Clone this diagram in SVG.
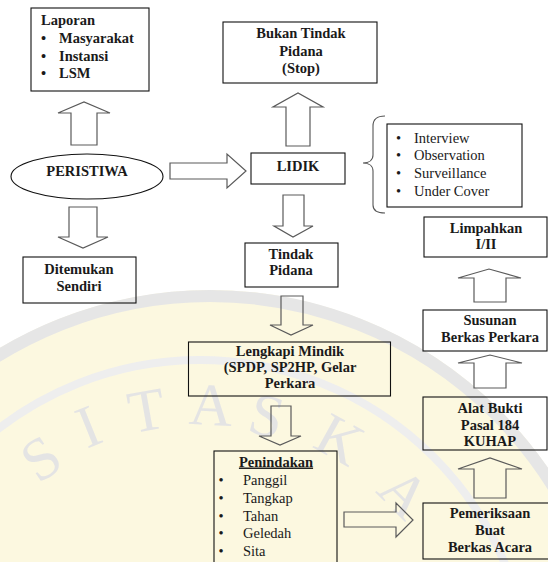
<svg xmlns="http://www.w3.org/2000/svg" width="548" height="562" viewBox="0 0 548 562">
<style>
.box{fill:none;stroke:#111;stroke-width:1.1}
.arr{fill:none;stroke:#5a5a5a;stroke-width:1.2;stroke-linejoin:miter}
.b{font-weight:bold;font-size:14.5px;fill:#1a1a1a}
.n{font-size:14.5px;fill:#1a1a1a}
.c{text-anchor:middle}
.wm{font-size:60px;fill:#e4e4e4;text-anchor:middle}
</style>
<rect width="548" height="562" fill="#ffffff"/>
<g id="watermark" font-family="'Liberation Serif', 'DejaVu Serif', serif">
<circle cx="210" cy="700" r="410" fill="#fcf8e0"/>
<circle cx="210" cy="700" r="404" fill="none" stroke="#e6e6e6" stroke-width="12"/>
<circle cx="200" cy="690" r="330" fill="none" stroke="#eeeeee" stroke-width="8"/>
<text class="wm" x="52" y="475" transform="rotate(-34 52 475)">S</text>
<text class="wm" x="96" y="445" transform="rotate(-22 96 445)">I</text>
<text class="wm" x="150" y="430" transform="rotate(-10 150 430)">T</text>
<text class="wm" x="210" y="425" transform="rotate(3 210 425)">A</text>
<text class="wm" x="262" y="435" transform="rotate(14 262 435)">S</text>
<text class="wm" x="330" y="457" transform="rotate(29 330 457)">K</text>
<text class="wm" x="390" y="507" transform="rotate(45 390 507)">A</text>
</g>
<g id="connectors">
<path class="arr" d="M71,145 V113 H58 L84,102 L110,113 H97 V145 Z"/>
<path class="arr" d="M170,163 H227 V154 L246,171 L227,188 V179 H170 Z"/>
<path class="arr" d="M69,207 H97 V237 H108 L83,248 L58,237 H69 Z"/>
<path class="arr" d="M286,146 V107 H273 L298,93 L323,107 H310 V146 Z"/>
<path class="arr" d="M283,195 H304 V226 H313 L293,237 L274,226 H283 Z"/>
<path class="arr" d="M281,296 H303 V325 H313 L291,335 L270,325 H281 Z"/>
<path class="arr" d="M271,406 H291 V436 H301 L280,445 L259,436 H271 Z"/>
<path class="arr" d="M344,512 H396 V503 L413,520 L396,537 V527 H344 Z"/>
<path class="arr" d="M474,498 V469 H458 L490,458 L522,469 H506 V498 Z"/>
<path class="arr" d="M474,388 V363 H458 L490,355 L522,363 H506 V388 Z"/>
<path class="arr" d="M474,302 V278 H458 L489,269 L521,278 H506 V302 Z"/>
<path fill="none" stroke="#555" stroke-width="1.1" d="M385,116 C377,116 373,119 373,126 L373,155 C373,160 369,163 363,163 C369,163 373,166 373,171 L373,205 C373,211 377,213 385,213"/>
</g>
<g font-family="'Liberation Serif', 'DejaVu Serif', serif">
<g id="laporan">
<rect class="box" x="31" y="8" width="118" height="83"/>
<text class="b" x="41" y="25">Laporan</text>
<text class="b" x="41" y="43">•</text><text class="b" x="59" y="43">Masyarakat</text>
<text class="b" x="41" y="61">•</text><text class="b" x="59" y="61">Instansi</text>
<text class="b" x="41" y="78">•</text><text class="b" x="59" y="78">LSM</text>
</g>
<g id="bukan">
<rect class="box" x="223" y="22" width="154" height="61"/>
<text class="b c" x="301" y="38">Bukan Tindak</text>
<text class="b c" x="301" y="56">Pidana</text>
<text class="b c" x="301" y="73">(Stop)</text>
</g>
<g id="peristiwa">
<ellipse cx="87" cy="176.5" rx="76" ry="22.5" fill="none" stroke="#111" stroke-width="1.1"/>
<text class="b c" x="87" y="176">PERISTIWA</text>
</g>
<g id="lidik">
<rect class="box" x="251" y="153" width="94" height="31"/>
<text class="b c" x="298" y="171">LIDIK</text>
</g>
<g id="metode">
<rect class="box" x="387" y="124" width="135" height="83"/>
<text class="n" x="396" y="142.5">•</text><text class="n" x="414" y="142.5">Interview</text>
<text class="n" x="396" y="160">•</text><text class="n" x="414" y="160">Observation</text>
<text class="n" x="396" y="178">•</text><text class="n" x="414" y="178">Surveillance</text>
<text class="n" x="396" y="195.5">•</text><text class="n" x="414" y="195.5">Under Cover</text>
</g>
<g id="ditemukan">
<rect class="box" x="23" y="257" width="113" height="46"/>
<text class="b c" x="79" y="274">Ditemukan</text>
<text class="b c" x="79" y="291">Sendiri</text>
</g>
<g id="tindak">
<rect class="box" x="245" y="243" width="93" height="44"/>
<text class="b c" x="291" y="259">Tindak</text>
<text class="b c" x="291" y="275">Pidana</text>
</g>
<g id="limpahkan">
<rect class="box" x="424" y="217" width="123" height="40"/>
<text class="b c" x="486" y="233">Limpahkan</text>
<text class="b c" x="486" y="249">I/II</text>
</g>
<g id="susunan">
<rect class="box" x="423" y="310" width="124" height="41"/>
<text class="b c" x="490" y="325">Susunan</text>
<text class="b c" x="490" y="341.5">Berkas Perkara</text>
</g>
<g id="lengkapi">
<rect class="box" x="188.5" y="342" width="202" height="54"/>
<text class="b c" x="290" y="356" font-size="13.5">Lengkapi Mindik</text>
<text class="b c" x="290" y="372" font-size="13.5">(SPDP, SP2HP, Gelar</text>
<text class="b c" x="290" y="387.5" font-size="13.5">Perkara</text>
</g>
<g id="alatbukti">
<rect class="box" x="423" y="397" width="124" height="53"/>
<text class="b c" x="490" y="413">Alat Bukti</text>
<text class="b c" x="490" y="430">Pasal 184</text>
<text class="b c" x="490" y="446">KUHAP</text>
</g>
<g id="penindakan">
<rect class="box" x="214" y="451" width="123" height="120"/>
<text class="b c" x="276" y="466.5" text-decoration="underline">Penindakan</text>
<text class="n" x="218.5" y="485">•</text><text class="n" x="243" y="485">Panggil</text>
<text class="n" x="218.5" y="502.7">•</text><text class="n" x="243" y="502.7">Tangkap</text>
<text class="n" x="218.5" y="520.5">•</text><text class="n" x="243" y="520.5">Tahan</text>
<text class="n" x="218.5" y="538.3">•</text><text class="n" x="243" y="538.3">Geledah</text>
<text class="n" x="218.5" y="556">•</text><text class="n" x="243" y="556">Sita</text>
</g>
<g id="pemeriksaan">
<rect class="box" x="423" y="503" width="130" height="56"/>
<text class="b c" x="490" y="518">Pemeriksaan</text>
<text class="b c" x="490" y="535">Buat</text>
<text class="b c" x="490" y="552">Berkas Acara</text>
</g>
</g>
</svg>
